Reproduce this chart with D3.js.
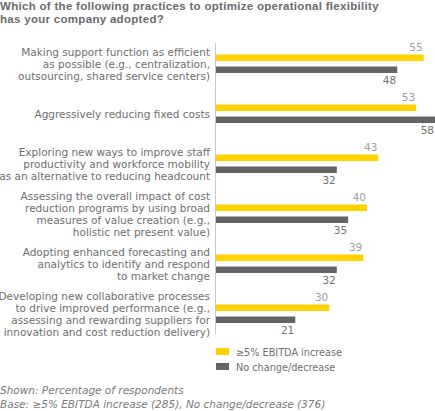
<!DOCTYPE html>
<html>
<head>
<meta charset="utf-8">
<script src="https://cdn.jsdelivr.net/npm/d3@7"></script>
<style>
  html, body { margin: 0; padding: 0; background: #fff; }
  svg { display: block; }
  text { font-family: "DejaVu Sans", sans-serif; }
  text.title { font-family: "Liberation Sans", Arial, sans-serif; letter-spacing: 0.3px; }
</style>
</head>
<body>
<div id="chart"></div>
<script>
const title = ["Which of the following practices to optimize operational flexibility", "has your company adopted?"];
const categories = [
  ["Making support function as efficient", "as possible (e.g., centralization,", "outsourcing, shared service centers)"],
  ["Aggressively reducing fixed costs"],
  ["Exploring new ways to improve staff", "productivity and workforce mobility", "as an alternative to reducing headcount"],
  ["Assessing the overall impact of cost", "reduction programs by using broad", "measures of value creation (e.g.,", "holistic net present value)"],
  ["Adopting enhanced forecasting and", "analytics to identify and respond", "to market change"],
  ["Developing new collaborative processes", "to drive improved performance (e.g.,", "assessing and rewarding suppliers for", "innovation and cost reduction delivery)"]
];
const seriesNames = ["≥5% EBITDA increase", "No change/decrease"];
const increaseValues = [55, 53, 43, 40, 39, 30];
const noChangeValues = [48, 58, 32, 35, 32, 21];
const notes = ["Shown: Percentage of respondents", "Base: ≥5% EBITDA increase (285), No change/decrease (376)"];

const W = 435, H = 411;
const colors = ["#FFD200", "#646464"];
const labelColors = ["#a0a0a0", "#707070"];

const svg = d3.select("#chart").append("svg").attr("width", W).attr("height", H);

// Title
svg.append("g").selectAll("text").data(title).join("text")
  .attr("class", "title")
  .attr("x", 0).attr("y", (d, i) => 9.5 + i * 13)
  .attr("font-size", 11.5).attr("font-weight", "bold").attr("fill", "#6b6b6b")
  .text(d => d);

const x0 = 216;
const x = d3.scaleLinear().domain([0, 58]).range([x0, 435]);
const y = d3.scaleBand().domain(d3.range(categories.length)).range([43, 343]).paddingInner(0).paddingOuter(0);
const barH = 6.5;
const series = [increaseValues, noChangeValues];
const barOffsets = [11.5, 23.5];

// axis line
svg.append("line").attr("x1", x0 - 0.5).attr("x2", x0 - 0.5).attr("y1", 43).attr("y2", 334)
  .attr("stroke", "#c8c8c8").attr("stroke-width", 1);

const groups = svg.append("g").selectAll("g").data(categories).join("g")
  .attr("transform", (d, i) => `translate(0,${y(i)})`);

series.forEach((vals, s) => {
  groups.append("rect")
    .attr("x", x0)
    .attr("y", barOffsets[s])
    .attr("width", (d, i) => x(vals[i]) - x0)
    .attr("height", barH)
    .attr("fill", colors[s]);
  groups.append("text")
    .attr("x", (d, i) => x(vals[i]) - 1)
    .attr("y", s === 0 ? barOffsets[s] - 4 : barOffsets[s] + barH + 11)
    .attr("text-anchor", "end")
    .attr("font-size", 10.5)
    .attr("fill", labelColors[s])
    .text((d, i) => vals[i]);
});

// category labels
groups.each(function(lines, i) {
  const g = d3.select(this);
  const center = (barOffsets[0] + barOffsets[1] + barH) / 2;
  const lh = 12;
  const top = center - (lines.length - 1) * lh / 2;
  g.selectAll("text.cat").data(lines).join("text")
    .attr("class", "cat")
    .attr("x", 210)
    .attr("y", (d, j) => top + j * lh + 4)
    .attr("text-anchor", "end")
    .attr("font-size", 10.5)
    .attr("fill", "#6e6e6e")
    .text(d => d);
});

// legend
const leg = svg.append("g").selectAll("g").data(seriesNames).join("g")
  .attr("transform", (d, i) => `translate(216,${348 + i * 15})`);
leg.append("rect").attr("width", 13).attr("height", 7).attr("fill", (d, i) => colors[i]);
leg.append("text").attr("x", 20).attr("y", 7.5).attr("font-size", 9.7).attr("fill", "#6e6e6e").text(d => d);

// notes
svg.append("g").selectAll("text").data(notes).join("text")
  .attr("x", 0).attr("y", (d, i) => 394 + i * 14)
  .attr("font-size", 10.5).attr("font-style", "italic").attr("fill", "#7a7a7a")
  .text(d => d);
</script>
</body>
</html>
